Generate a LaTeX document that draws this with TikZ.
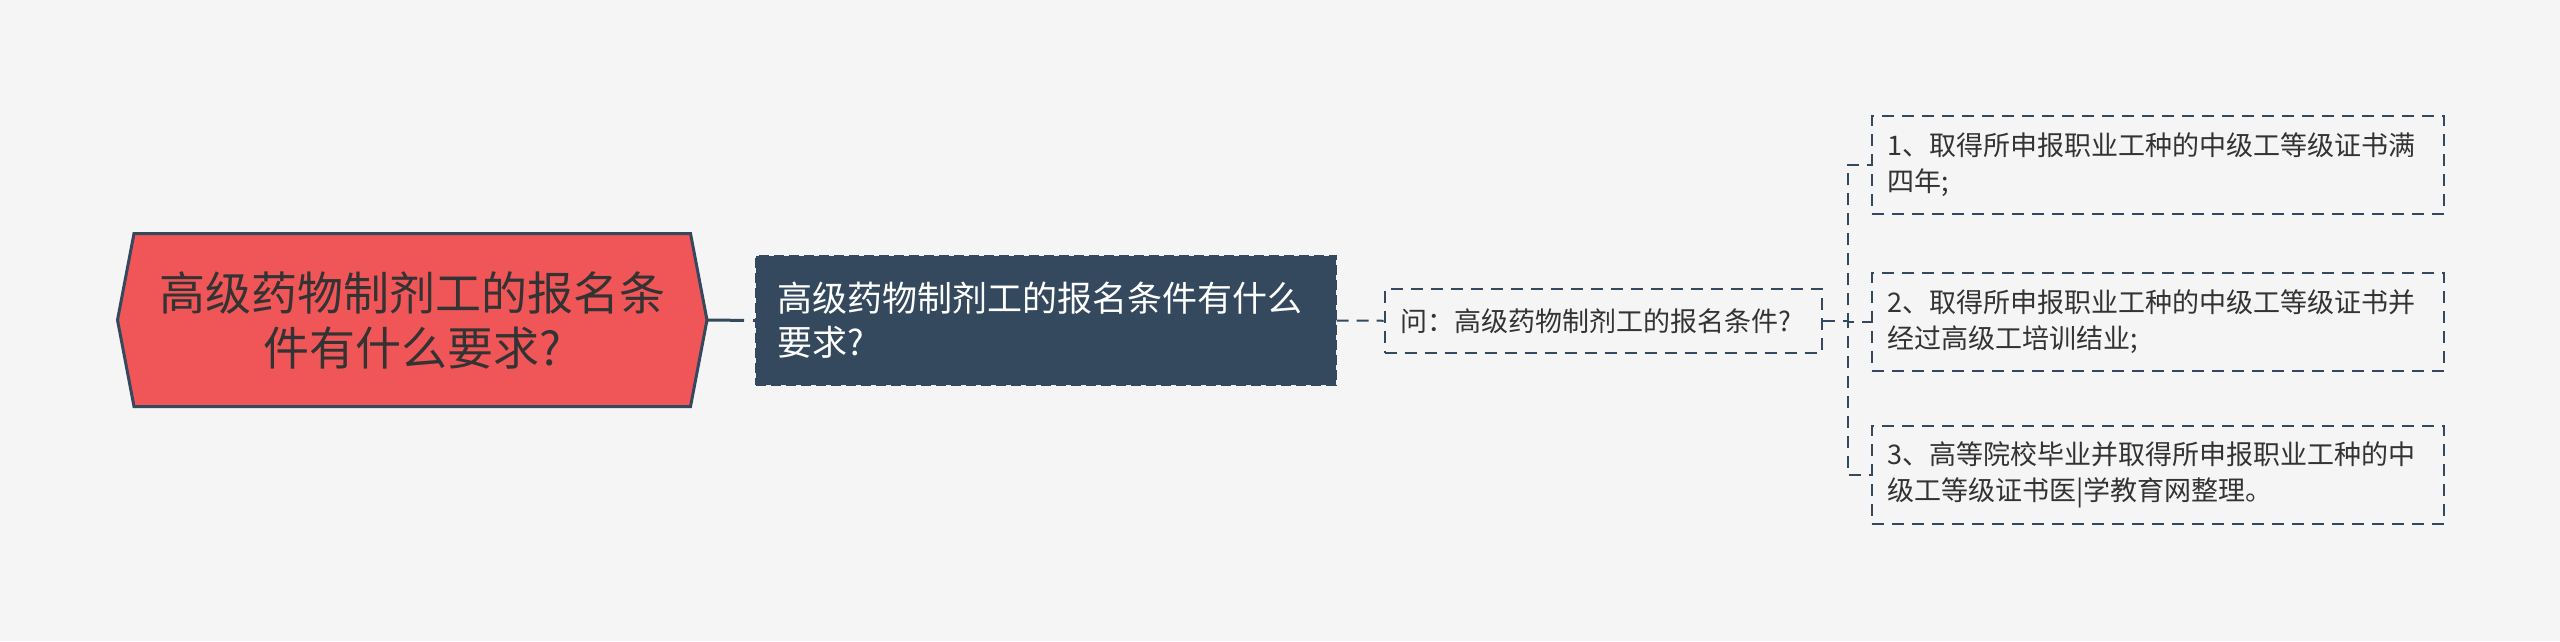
\documentclass[tikz,border=0pt]{standalone}
\usepackage{fontspec}
\setmainfont{Noto Sans CJK SC}
\definecolor{bgc}{HTML}{F5F5F5}
\definecolor{rootred}{HTML}{F05657}
\definecolor{navy}{HTML}{34495E}
\definecolor{txt}{HTML}{333333}
\tikzset{
  darkbox/.style={rectangle, fill=navy, draw=navy, line width=2pt, dash pattern=on 10pt off 5pt,
    inner xsep=21pt, inner ysep=0pt, align=left, text=white,
    font=\fontsize{35}{44}\selectfont},
  qbox/.style={rectangle, fill=bgc, draw=navy, line width=2pt, dash pattern=on 12pt off 8pt,
    inner xsep=16pt, inner ysep=0pt, align=left, text=txt,
    font=\fontsize{27}{34}\selectfont},
  leafbox/.style={rectangle, fill=bgc, draw=navy, line width=2pt, dash pattern=on 12pt off 8pt,
    inner xsep=15pt, inner ysep=0pt, align=left, text=txt, text width=542pt,
    minimum width=572pt, minimum height=98pt,
    font=\fontsize{27}{36}\selectfont},
  link/.style={draw=navy, line width=2pt, dash pattern=on 12pt off 8pt},
  rootlink/.style={draw=navy, line width=3pt, dash pattern=on 37pt off 9pt},
}
\begin{document}
\begin{tikzpicture}[x=1pt,y=-1pt]
\fill[bgc] (0,0) rectangle (2560,641);
\useasboundingbox (0,0) rectangle (2560,641);
% root
\draw[line width=3pt, draw=navy, fill=rootred, line join=miter]
  (117.5,320) -- (134,233.5) -- (690.5,233.5) -- (707,320) -- (690.5,406.5) -- (134,406.5) -- cycle;
\node[font=\fontsize{46}{55}\selectfont, text=txt, align=center] (root) at (412,320)
  {高级药物制剂工的报名条\\件有什么要求?};
\coordinate (rootE) at (707,320);
% sub
\node[darkbox, minimum width=579.5pt, minimum height=129pt, text width=537.5pt] (sub) at (1045.75,320.5)
  {高级药物制剂工的报名条件有什么\\要求?};
% question
\node[qbox, minimum width=437.5pt, minimum height=63.5pt, text width=405.5pt] (q) at (1603.25,320.75)
  {问：高级药物制剂工的报名条件?};
% leaves
\node[leafbox] (l1) at (2158,165) {1、取得所申报职业工种的中级工等级证书满\\四年;};
\node[leafbox] (l2) at (2158,321.5) {2、取得所申报职业工种的中级工等级证书并\\经过高级工培训结业;};
\node[leafbox] (l3) at (2158,475) {3、高等院校毕业并取得所申报职业工种的中\\级工等级证书医|学教育网整理。};
% connectors
\draw[rootlink] (rootE) -- (sub.west);
\draw[link] (sub.east) -- (q.west);
\coordinate (bus) at (1847.5,320.75);
\draw[link] (q.east) -- (bus) |- (l1.west);
\draw[link] (q.east) -- (bus) |- (l2.west);
\draw[link] (q.east) -- (bus) |- (l3.west);
\end{tikzpicture}
\end{document}
